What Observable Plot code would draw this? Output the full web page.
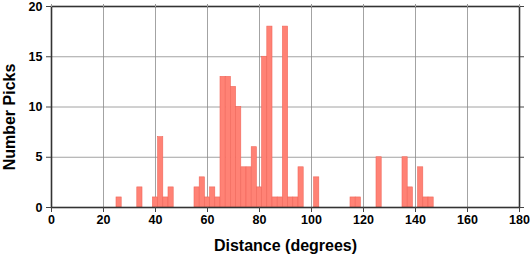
<!DOCTYPE html>
<html>
<head>
<meta charset="utf-8">
<script src="https://cdn.jsdelivr.net/npm/d3@7"></script>
<script src="https://cdn.jsdelivr.net/npm/@observablehq/plot@0.6"></script>
<style>
  html, body { margin: 0; padding: 0; background: #fff; }
  #chart svg { display: block; }
</style>
</head>
<body>
<div id="chart"></div>
<script>
// Histogram of picks by epicentral distance (2-degree bins, centred on even degrees)
const binCenters = [26, 34, 40, 42, 44, 46, 56, 58, 60, 62, 64, 66, 68, 70, 72, 74, 76, 78, 80,
                    82, 84, 86, 88, 90, 92, 94, 96, 102, 116, 118, 126, 136, 138, 142, 144, 146];
const counts     = [1, 2, 1, 7, 1, 2, 2, 3, 1, 2, 1, 13, 13, 12, 10, 4, 4, 6, 2,
                    15, 18, 1, 1, 18, 1, 1, 4, 3, 1, 1, 5, 5, 2, 4, 1, 1];
const binWidth = 2;
const xTicks = [0, 20, 40, 60, 80, 100, 120, 140, 160, 180];
const yTicks = [0, 5, 10, 15, 20];
const xLabel = "Distance (degrees)";
const yLabel = "Number Picks";

const bins = binCenters.map((c, i) => ({x1: c - binWidth / 2, x2: c + binWidth / 2, count: counts[i]}));

const chart = Plot.plot({
  width: 530,
  height: 258,
  marginLeft: 51,
  marginRight: 11,
  marginTop: 6,
  marginBottom: 51,
  style: {fontFamily: "'Liberation Sans', Arial, Helvetica, sans-serif", fontWeight: "bold", fontSize: "12px", color: "#000", background: "#fff"},
  x: {domain: [0, 180]},
  y: {domain: [0, 20]},
  marks: [
    Plot.gridX(xTicks, {stroke: "#8c8c8c", strokeOpacity: 1, strokeWidth: 0.8}),
    Plot.gridY(yTicks, {stroke: "#8c8c8c", strokeOpacity: 1, strokeWidth: 0.8}),
    Plot.rectY(bins, {x1: "x1", x2: "x2", y: "count", fill: "#ff8275", stroke: "#f0675a", strokeWidth: 0.6}),
    Plot.frame({stroke: "#333", strokeWidth: 1.6}),
    Plot.axisX(xTicks, {anchor: "bottom", tickSize: 5, tickPadding: 3, label: null, stroke: "#444", fontSize: 12.5, fontWeight: "bold"}),
    Plot.axisY(yTicks, {anchor: "left", tickSize: 5, tickPadding: 4, label: null, stroke: "#444", fontSize: 12.5, fontWeight: "bold"}),
    Plot.axisX(xTicks, {anchor: "top", tickSize: 3, tickFormat: () => "", label: null, stroke: "#999"}),
    Plot.axisY(yTicks, {anchor: "right", tickSize: 4, tickFormat: () => "", label: null, stroke: "#444"}),
    Plot.text([xLabel], {frameAnchor: "bottom", dy: 43, fontSize: 16, fontWeight: "bold", fill: "#000"}),
    Plot.text([yLabel], {frameAnchor: "left", textAnchor: "middle", dx: -42, dy: 10, rotate: -90, fontSize: 16, fontWeight: "bold", fill: "#000"})
  ]
});
document.getElementById("chart").appendChild(chart);
</script>
</body>
</html>
